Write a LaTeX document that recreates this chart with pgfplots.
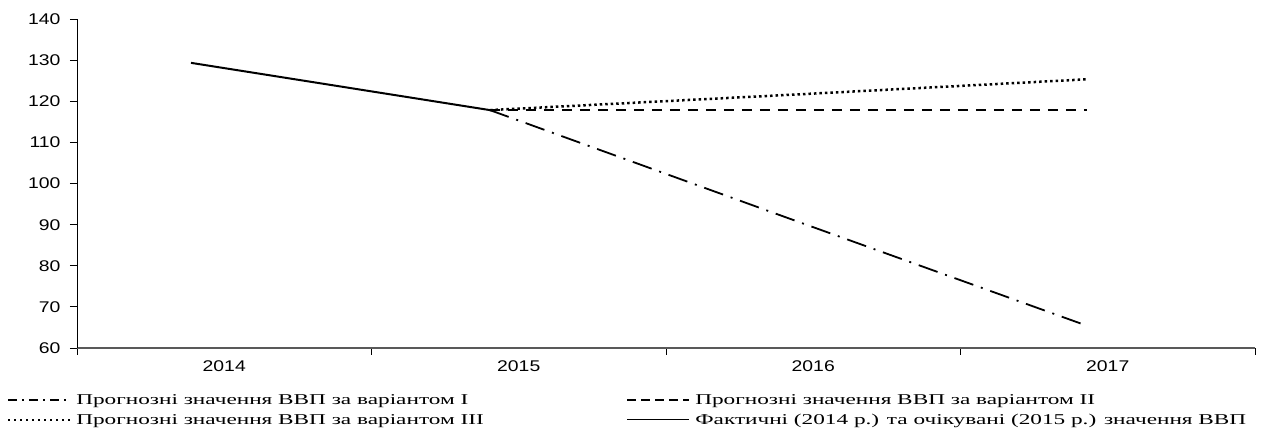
\documentclass[border=0pt]{standalone}
\usepackage{fontspec}
\setmainfont{Liberation Serif}
\newfontfamily\tickfont[FakeStretch=1.25]{Liberation Sans}
\newfontfamily\legfont[FakeStretch=1.55]{Liberation Serif}
\usepackage{pgfplots}
\pgfplotsset{compat=1.18}

\begin{document}
\begin{tikzpicture}
\begin{axis}[
    width=1178pt, height=328.7pt, scale only axis,
    xmin=0, xmax=4, ymin=60, ymax=140,
    axis x line=bottom, axis y line=left,
    axis line style={-},
    x axis line style={draw=black!65, line width=1.5pt},
    y axis line style={line width=0.9pt},
    tick align=outside, major tick length=7pt,
    tick style={black, line width=0.9pt},
    xtick={0,1,2,3,4}, xticklabels={},
    extra x ticks={0.5,1.5,2.5,3.5},
    extra x tick labels={2014,2015,2016,2017},
    extra x tick style={major tick length=0pt},
    ytick={60,70,...,140},
    tick label style={font=\tickfont\fontsize{15.5}{17}\selectfont},
    xticklabel style={yshift=-9pt},
    yticklabel style={xshift=-6pt},
    /pgf/number format/assume math mode=true,
    legend columns=2,
    legend style={at={(axis description cs:-0.0594,-0.135)}, anchor=north west,
        draw=none, fill=none, inner sep=0pt,
        font=\legfont\fontsize{15}{16}\selectfont,
        nodes={inner sep=2pt},
        column sep=0pt, row sep=4pt},
    legend cell align=left,
]
\addplot[black, line width=1.8pt, dash pattern=on 20pt off 8pt on 2pt off 8pt,
    legend image code/.code={\draw[black, line width=1.6pt, dash pattern=on 9pt off 5pt on 2pt off 5pt] (0pt,0pt) -- (62pt,0pt); \path (65pt,0pt);}]
    coordinates {(1.402,117.9) (2.415,91.6) (3.43,65.4)};
\addlegendentry{\makebox[548pt][l]{Прогнозні значення ВВП за варіантом I}}
\addplot[black, line width=2.5pt, dash pattern=on 10pt off 8pt,
    legend image code/.code={\draw[black, line width=1.6pt, dash pattern=on 9pt off 5pt] (0pt,0pt) -- (62pt,0pt); \path (65pt,0pt);}]
    coordinates {(1.402,117.9) (2.415,117.9) (3.43,117.9)};
\addlegendentry{Прогнозні значення ВВП за варіантом II}
\addplot[black, line width=2.5pt, dash pattern=on 2.5pt off 3pt,
    legend image code/.code={\draw[black, line width=1.6pt, dash pattern=on 2pt off 4pt] (0pt,0pt) -- (62pt,0pt); \path (65pt,0pt);}]
    coordinates {(1.402,117.9) (2.415,121.6) (3.43,125.4)};
\addlegendentry{\makebox[548pt][l]{Прогнозні значення ВВП за варіантом III}}
\addplot[black, line width=2pt,
    legend image code/.code={\draw[black, line width=1pt] (0pt,0pt) -- (62pt,0pt); \path (65pt,0pt);}]
    coordinates {(0.387,129.4) (1.402,117.9)};
\addlegendentry{Фактичні (2014 р.) та очікувані (2015 р.) значення ВВП}
\end{axis}
\pgfresetboundingbox
\useasboundingbox (-77pt,-82pt) rectangle (1184pt,348pt);
\end{tikzpicture}
\end{document}
